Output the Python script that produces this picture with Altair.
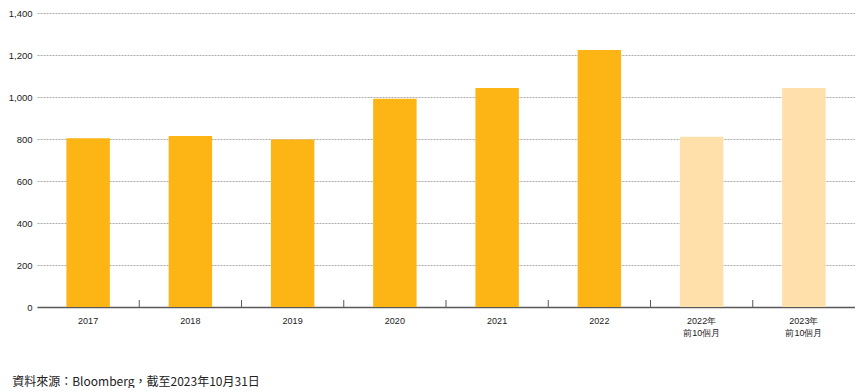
import altair as alt
import pandas as pd

categories = ["2017", "2018", "2019", "2020", "2021", "2022", "2022年|前10個月", "2023年|前10個月"]
values = [803, 814, 798, 992, 1043, 1224, 811, 1043]
kinds = ["全年", "全年", "全年", "全年", "全年", "全年", "前10個月", "前10個月"]
y_ticks = [0, 200, 400, 600, 800, 1000, 1200, 1400]

df = pd.DataFrame({"cat": categories, "value": values, "kind": kinds})
tick_df = pd.DataFrame({"cat": categories[1:]})

FONT = "Liberation Sans"
W, H = 818, 294

x_scale = alt.Scale(domain=categories, paddingInner=0, paddingOuter=0)

x_enc = alt.X("cat:N", sort=categories, title=None, scale=x_scale,
              axis=alt.Axis(labelAngle=0, ticks=False, domain=True, domainColor="#595959",
                            domainWidth=1.5, labelFont=FONT, labelFontSize=9, labelColor="#222",
                            labelPadding=9, labelExpr="split(datum.label, '|')", labelLineHeight=12))

bars = alt.Chart(df).mark_bar(width=alt.RelativeBandSize(0.425)).encode(
    x=x_enc,
    y=alt.Y("value:Q", title=None,
            scale=alt.Scale(domain=[0, 1400], nice=False),
            axis=alt.Axis(values=y_ticks, format=",.0f", domain=False, ticks=False,
                          grid=True, gridColor="#ababab", gridDash=[2, 1], gridWidth=1,
                          labelFont=FONT, labelFontSize=9.5, labelColor="#222", labelPadding=5)),
    color=alt.Color("kind:N", scale=alt.Scale(domain=["全年", "前10個月"], range=["#FDB515", "#FFE0AB"]),
                    legend=None),
)

ticks = alt.Chart(tick_df).mark_rule(color="#595959", strokeWidth=1).encode(
    x=alt.X("cat:N", sort=categories, bandPosition=0),
    y=alt.value(H - 7),
    y2=alt.value(H),
)

chart = alt.layer(bars, ticks).properties(
    width=W, height=H,
    padding={"left": 0, "top": 0, "right": 0, "bottom": 0},
    title=alt.TitleParams("資料來源：Bloomberg，截至2023年10月31日", orient="bottom", anchor="start",
                          frame="bounds", font="Noto Sans CJK TC", fontSize=12, fontWeight="normal",
                          color="#222", offset=40, dx=4),
).configure_view(stroke=None)

chart.save("out.html", embed_options={"renderer": "svg", "actions": False})
